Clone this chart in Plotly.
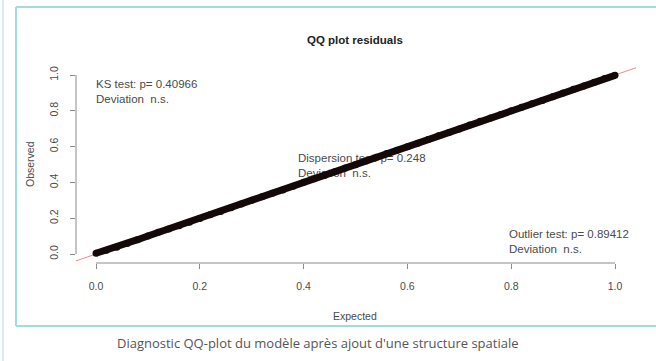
import plotly.graph_objects as go

# ---- data ----
expected = [0.00, 0.02, 0.04, 0.06, 0.08, 0.10, 0.12, 0.14, 0.16, 0.18,
            0.20, 0.22, 0.24, 0.26, 0.28, 0.30, 0.32, 0.34, 0.36, 0.38,
            0.40, 0.42, 0.44, 0.46, 0.48, 0.50, 0.52, 0.54, 0.56, 0.58,
            0.60, 0.62, 0.64, 0.66, 0.68, 0.70, 0.72, 0.74, 0.76, 0.78,
            0.80, 0.82, 0.84, 0.86, 0.88, 0.90, 0.92, 0.94, 0.96, 0.98, 1.00]
observed = [0.004, 0.021, 0.038, 0.059, 0.080, 0.101, 0.121, 0.139, 0.158, 0.178,
            0.199, 0.219, 0.238, 0.258, 0.279, 0.300, 0.320, 0.339, 0.358, 0.379,
            0.401, 0.420, 0.439, 0.459, 0.480, 0.499, 0.519, 0.540, 0.561, 0.580,
            0.599, 0.619, 0.640, 0.660, 0.679, 0.699, 0.720, 0.741, 0.760, 0.779,
            0.800, 0.820, 0.839, 0.858, 0.879, 0.900, 0.920, 0.939, 0.959, 0.980, 0.998]
ref_line = [-0.05, 1.05]
tick_vals = [0.0, 0.2, 0.4, 0.6, 0.8, 1.0]
tick_text = ["0.0", "0.2", "0.4", "0.6", "0.8", "1.0"]

title_text = "<b>QQ plot residuals</b>"
x_title = "Expected"
y_title = "Observed"
test_texts = ["KS test: p= 0.40966<br>Deviation  n.s.",
              "Dispersion test: p= 0.248<br>Deviation  n.s.",
              "Outlier test: p= 0.89412<br>Deviation  n.s."]
caption = "Diagnostic QQ-plot du modèle après ajout d'une structure spatiale"

# ---- layout geometry (pixels) ----
W, H = 656, 361
L, R, T, B = 76, 636, 67, 263
PW, PH = R - L, B - T
X0, XU = 96, 519   # pixel of x=0, pixels per unit
Y0, YU = 254, 179  # pixel of y=0, pixels per unit


def px(x):
    return (x - L) / PW


def py(y):
    return (B - y) / PH


def dx(x):
    return (x - X0) / XU


def dy(y):
    return (Y0 - y) / YU


# text block anchors (pixel positions of left edge / vertical middle)
text_px = [(96, 93), (298, 167), (509, 243)]

fig = go.Figure()
fig.add_trace(go.Scatter(x=ref_line, y=ref_line, mode="lines",
                         line=dict(color="rgba(225,90,90,0.7)", width=1),
                         hoverinfo="skip", showlegend=False))
fig.add_trace(go.Scatter(x=[dx(p[0]) for p in text_px], y=[dy(p[1]) for p in text_px],
                         mode="text", text=test_texts, textposition="middle right",
                         textfont=dict(family="Liberation Sans, Arial", size=11.5, color="#4a4a4a"),
                         hoverinfo="skip", showlegend=False))
fig.add_trace(go.Scatter(x=expected, y=observed, mode="lines+markers",
                         line=dict(color="#140909", width=7),
                         marker=dict(symbol="circle", size=7, color="#140909"),
                         showlegend=False))

teal = "#a3dbdb"
grey_axis = "#8a8a8a"
shapes = [
    dict(type="line", xref="paper", yref="paper", x0=px(16), x1=px(660),
         y0=py(7), y1=py(7), line=dict(color=teal, width=2)),
    dict(type="line", xref="paper", yref="paper", x0=px(16), x1=px(16),
         y0=py(7), y1=py(326), line=dict(color=teal, width=2)),
    dict(type="line", xref="paper", yref="paper", x0=px(16), x1=px(660),
         y0=py(326), y1=py(326), line=dict(color=teal, width=2)),
    dict(type="line", xref="paper", yref="paper", x0=px(3), x1=px(3),
         y0=py(-5), y1=py(370), line=dict(color="#cdeaea", width=1.5)),
    dict(type="line", xref="x", yref="paper", x0=0, x1=1, y0=0, y1=0,
         line=dict(color=grey_axis, width=1)),
    dict(type="line", xref="paper", yref="y", x0=0, x1=0, y0=0, y1=1,
         line=dict(color=grey_axis, width=1)),
]

annotations = [
    dict(text=title_text, xref="paper", yref="paper", x=px(355), y=py(40),
         xanchor="center", yanchor="middle", showarrow=False,
         font=dict(family="Liberation Sans, Arial", size=11.5, color="#222")),
    dict(text=x_title, xref="paper", yref="paper", x=px(355), y=py(316),
         xanchor="center", yanchor="middle", showarrow=False,
         font=dict(family="Liberation Sans, Arial", size=10.5, color="#4a4a4a")),
    dict(text=y_title, xref="paper", yref="paper", x=px(30), y=py(164), textangle=-90,
         xanchor="center", yanchor="middle", showarrow=False,
         font=dict(family="Liberation Sans, Arial", size=10.5, color="#4a4a4a")),
    dict(text=caption, xref="paper", yref="paper", x=px(317), y=py(343),
         xanchor="center", yanchor="middle", showarrow=False,
         font=dict(family="Open Sans", size=13, color="#555")),
]

axis_font = dict(family="Liberation Sans, Arial", size=10.5, color="#4a4a4a")
fig.update_layout(
    width=W, height=H,
    margin=dict(l=L, r=W - R, t=T, b=H - B),
    paper_bgcolor="white", plot_bgcolor="white",
    shapes=shapes, annotations=annotations,
    xaxis=dict(range=[dx(L), dx(R)], tickvals=tick_vals, ticktext=tick_text,
               showgrid=False, zeroline=False, showline=False,
               ticks="outside", ticklen=5, tickcolor=grey_axis,
               tickfont=axis_font, ticklabelstandoff=8),
    yaxis=dict(range=[dy(B), dy(T)], tickvals=tick_vals, ticktext=tick_text,
               showgrid=False, zeroline=False, showline=False,
               ticks="outside", ticklen=5, tickcolor=grey_axis, tickangle=-90,
               tickfont=axis_font, ticklabelstandoff=8),
)

fig.write_html("out.html")
